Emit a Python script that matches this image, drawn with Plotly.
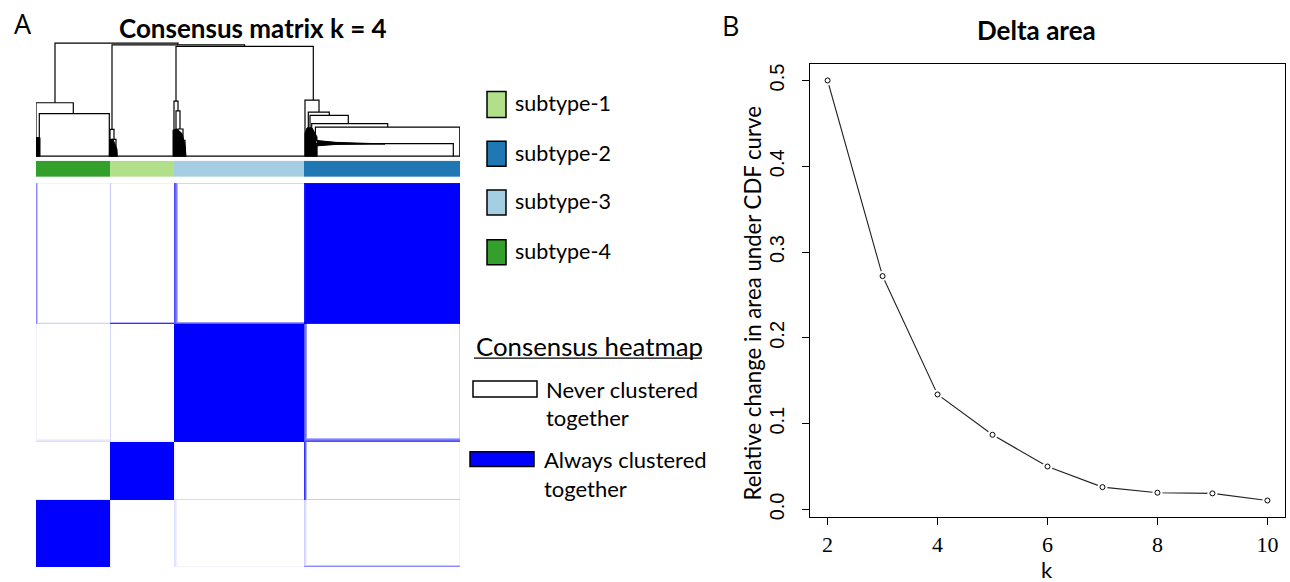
import numpy as np
import plotly.graph_objects as go

W, H = 1290, 582

# ---------------- data ----------------
cluster_order = ["subtype-4", "subtype-1", "subtype-3", "subtype-2"]
cluster_sizes = [74, 64, 130, 156]
cluster_colors = ["#33a02c", "#b2df8a", "#a6cee3", "#1f78b4"]
legend_labels = ["subtype-1", "subtype-2", "subtype-3", "subtype-4"]
legend_colors = ["#b2df8a", "#1f78b4", "#a6cee3", "#33a02c"]

# samples with partial consensus (sample index in dendrogram order) and
# their consensus with members of each cluster (order as cluster_order)
amb_samples = [0, 1, 74, 138, 139, 140, 141, 268, 269, 270, 423]
amb_vs_s4 = [1.0, 1.0, 0.08, 0.12, 0.10, 0.06, 0.0, 0.18, 0.12, 0.06, 0.05]
amb_vs_s1 = [0.0, 0.0, 1.0, 0.05, 0.04, 0.0, 0.0, 0.80, 0.60, 0.30, 0.05]
amb_vs_s3 = [0.05, 0.0, 0.15, 1.0, 1.0, 1.0, 1.0, 0.65, 0.55, 0.40, 0.18]
amb_vs_s2 = [0.45, 0.22, 0.22, 0.70, 0.60, 0.50, 0.30, 0.90, 0.95, 1.0, 1.0]

# dendrogram links: (x_left, x_right, merge_height, left_child_height, right_child_height)
dendro_links = [
    (19.0, 142.0, 0.997, 0.471, 0.982),
    (76.0, 208.6, 0.982, 0.237, 0.968),
    (140.0, 277.3, 0.968, 0.485, 0.494),
    (0.0, 37.3, 0.471, 0.0, 0.375),
    (3.3, 73.3, 0.375, 0.0, 0.0),
    (74.0, 78.0, 0.237, 0.0, 0.149),
    (76.3, 80.0, 0.149, 0.0, 0.0),
    (138.0, 142.0, 0.485, 0.0, 0.40),
    (140.0, 144.0, 0.40, 0.0, 0.24),
    (142.0, 147.0, 0.24, 0.0, 0.14),
    (144.0, 149.0, 0.14, 0.0, 0.0),
    (269.0, 283.0, 0.494, 0.0, 0.389),
    (272.3, 293.3, 0.389, 0.0, 0.360),
    (274.0, 312.3, 0.360, 0.0, 0.287),
    (275.7, 351.7, 0.287, 0.0, 0.257),
    (279.4, 423.8, 0.257, 0.0, 0.0),
    (280.7, 417.3, 0.111, 0.0, 0.0),
]
# dense leaf-level merges (drawn as solid black masses)
dendro_masses = [
    [(0, 0), (4, 0), (4, 0.164), (0, 0.164)],
    [(73.3, 0), (81.3, 0), (81, 0.06), (79, 0.10), (77, 0.149), (74, 0.149)],
    [(137, 0), (150, 0), (149, 0.10), (146, 0.20), (141, 0.24), (137, 0.23)],
    [(269, 0), (281, 0), (281, 0.17), (276, 0.25), (271, 0.25), (269, 0.2)],
    [(279, 0.09), (279, 0.14), (300, 0.122), (349, 0.112), (349, 0.108), (300, 0.104)],
]

k_values = [2, 3, 4, 5, 6, 7, 8, 9, 10]
delta_area = [0.500, 0.272, 0.134, 0.087, 0.050, 0.026, 0.0195, 0.0187, 0.0104]
y_ticks = [0.0, 0.1, 0.2, 0.3, 0.4, 0.5]
x_ticks = [2, 4, 6, 8, 10]


def px(x):
    return x / W


def py(y):
    return 1 - y / H


# ---------------- consensus matrix ----------------
edges = [0]
for s in cluster_sizes:
    edges.append(edges[-1] + s)
N = edges[-1]
n = len(cluster_sizes)
labels = np.concatenate([np.full(s, i) for i, s in enumerate(cluster_sizes)])
M = (labels[:, None] == labels[None, :]).astype(float)
amb_table = np.array([amb_vs_s4, amb_vs_s1, amb_vs_s3, amb_vs_s2]).T  # (n_amb, n_clusters)
for idx, row in zip(amb_samples, amb_table):
    vals = row[labels]
    M[idx, :] = vals
    M[:, idx] = vals
for a, ra in zip(amb_samples, amb_table):
    for b, rb in zip(amb_samples, amb_table):
        M[a, b] = max(ra[labels[b]], rb[labels[a]]) if labels[a] != labels[b] else 1.0

fig = go.Figure()

# consensus heatmap
fig.add_trace(go.Heatmap(
    z=M, x=np.arange(N + 1), y=np.arange(N + 1), xaxis="x", yaxis="y",
    colorscale=[[0, "#ffffff"], [1, "#0000ff"]], zmin=0, zmax=1,
    showscale=False, hoverinfo="skip"))

# cluster colour bar
fig.add_trace(go.Heatmap(
    z=[list(range(n))], x=edges, y=[0, 1], xaxis="x2", yaxis="y2",
    colorscale=[[0, cluster_colors[0]], [1 / 3, cluster_colors[1]],
                [2 / 3, cluster_colors[2]], [1, cluster_colors[3]]],
    zmin=0, zmax=n - 1, showscale=False, hoverinfo="skip"))

# dendrogram
dx, dy = [], []
for xl, xr, h, hl, hr in dendro_links:
    dx += [xl, xl, xr, xr, None]
    dy += [hl, h, h, hr, None]
dx += [0, N, None]
dy += [0, 0, None]
fig.add_trace(go.Scatter(x=dx, y=dy, mode="lines", xaxis="x3", yaxis="y3",
                         line=dict(color="black", width=1.2), hoverinfo="skip"))
mx, my = [], []
for poly in dendro_masses:
    for (a, b) in poly:
        mx.append(a)
        my.append(b)
    mx.append(poly[0][0])
    my.append(poly[0][1])
    mx.append(None)
    my.append(None)
fig.add_trace(go.Scatter(x=mx, y=my, mode="lines", fill="toself", fillcolor="black",
                         xaxis="x3", yaxis="y3", line=dict(color="black", width=1),
                         hoverinfo="skip"))

# delta area
fig.add_trace(go.Scatter(x=k_values, y=delta_area, mode="lines", xaxis="x4", yaxis="y4",
                         line=dict(color="#222222", width=1.1), hoverinfo="skip"))
fig.add_trace(go.Scatter(x=k_values, y=delta_area, mode="markers", xaxis="x4", yaxis="y4",
                         marker=dict(symbol="circle", size=10, color="white"), hoverinfo="skip"))
fig.add_trace(go.Scatter(x=k_values, y=delta_area, mode="markers", xaxis="x4", yaxis="y4",
                         marker=dict(symbol="circle-open", size=5, color="black",
                                     line=dict(width=1, color="black")), hoverinfo="skip"))

hm_x = [px(36), px(460)]
fig.update_layout(
    width=W, height=H, margin=dict(l=0, r=0, t=0, b=0),
    paper_bgcolor="white", plot_bgcolor="white", showlegend=False,
    xaxis=dict(domain=hm_x, range=[0, N], visible=False),
    yaxis=dict(domain=[py(570), py(184)], range=[0, N], visible=False),
    xaxis2=dict(domain=hm_x, range=[0, N], visible=False),
    yaxis2=dict(domain=[py(178), py(161.5)], range=[0, 1], visible=False),
    xaxis3=dict(domain=hm_x, range=[0, N], visible=False),
    yaxis3=dict(domain=[py(159.3), py(40.7)], range=[-0.02, 1.02], visible=False),
    xaxis4=dict(domain=[px(810), px(1285)], range=[1.68, 10.32], anchor="y4",
                tickvals=x_ticks, ticks="outside", ticklen=7, tickcolor="black",
                showline=True, linecolor="black", linewidth=1.2, mirror=True,
                showgrid=False, zeroline=False,
                tickfont=dict(family="Liberation Serif", size=22, color="black")),
    yaxis4=dict(domain=[py(520), py(64)], range=[-0.0092, 0.5196], anchor="x4",
                tickvals=y_ticks, ticktext=[f"{v:.1f}" for v in y_ticks],
                ticks="outside", ticklen=7, tickcolor="black", tickangle=-90,
                showline=True, linecolor="black", linewidth=1.2, mirror=True,
                showgrid=False, zeroline=False, ticklabelstandoff=10,
                tickfont=dict(family="Liberation Sans", size=20, color="black")),
)

ann = []
sans = "Lato"


def add_text(x, y, text, size, bold=False, xanchor="left", family=sans, angle=0):
    ann.append(dict(x=px(x), y=py(y), xref="paper", yref="paper",
                    text=f"<b>{text}</b>" if bold else text,
                    showarrow=False, xanchor=xanchor, yanchor="middle", textangle=angle,
                    font=dict(family=family, size=size, color="black")))


add_text(12, 24, "A", 27, family="Open Sans")
add_text(720, 26, "B", 27, family="Open Sans")
add_text(253, 28, "Consensus matrix k = 4", 26, bold=True, xanchor="center")
add_text(1036, 30, "Delta area", 26, bold=True, xanchor="center")
add_text(752, 305, "Relative change in area under CDF curve", 22.2, xanchor="center", angle=-90)
add_text(1047, 572, "k", 22, xanchor="center")

shapes = []
legend_y = [(92, 118), (142, 167), (191, 216), (241, 266)]
for lab, col, (y0, y1) in zip(legend_labels, legend_colors, legend_y):
    shapes.append(dict(type="rect", xref="paper", yref="paper", x0=px(487), x1=px(506),
                       y0=py(y1), y1=py(y0), fillcolor=col, line=dict(color="black", width=1.5)))
    add_text(513, (y0 + y1) / 2 - 1, lab, 21.5)

add_text(474, 348, "Consensus heatmap", 25.8)
shapes.append(dict(type="line", xref="paper", yref="paper", x0=px(474), x1=px(702),
                   y0=py(360), y1=py(360), line=dict(color="black", width=1.2)))
shapes.append(dict(type="rect", xref="paper", yref="paper", x0=px(473), x1=px(537),
                   y0=py(399), y1=py(383), fillcolor="white", line=dict(color="black", width=1.5)))
add_text(544, 392, "Never clustered", 22)
add_text(544, 420, "together", 22)
shapes.append(dict(type="rect", xref="paper", yref="paper", x0=px(470), x1=px(534),
                   y0=py(469), y1=py(454), fillcolor="#0000ff", line=dict(color="black", width=1.5)))
add_text(542, 462, "Always clustered", 22)
add_text(542, 491, "together", 22)

fig.update_layout(annotations=ann, shapes=shapes)
fig.write_html("out.html", config={"displayModeBar": False},
               post_script="document.body.style.margin='0';document.body.style.overflow='hidden';")
